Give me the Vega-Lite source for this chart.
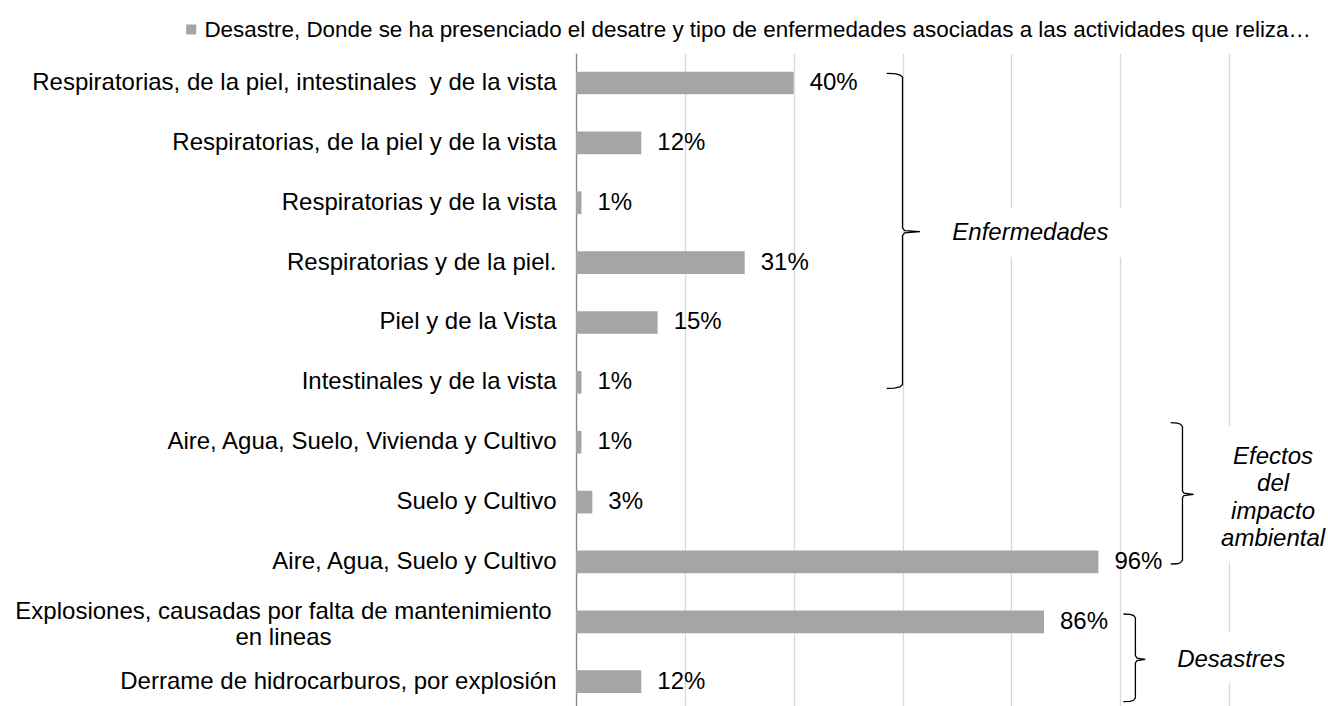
{
  "$schema": "https://vega.github.io/schema/vega-lite/v6.json",
  "width": 653,
  "height": 652.7,
  "autosize": {"type": "none"},
  "padding": {"left": 576, "top": 53.3, "right": 99, "bottom": 0},
  "background": "white",
  "config": {
    "font": "Liberation Sans",
    "view": {"stroke": null},
    "axisX": {"grid": true, "gridColor": "#d9d9d9", "gridWidth": 1.3, "labels": false, "ticks": false, "domain": false, "title": null},
    "text": {"font": "Liberation Sans", "fontSize": 24, "color": "#000000"}
  },
  "datasets": {
    "bars": [
      {"cat": "Respiratorias, de la piel, intestinales\u00a0 y de la vista", "v": 0.40},
      {"cat": "Respiratorias, de la piel y de la vista", "v": 0.12},
      {"cat": "Respiratorias y de la vista\u00a0", "v": 0.01},
      {"cat": "Respiratorias y de la piel.", "v": 0.31},
      {"cat": "Piel y de la Vista", "v": 0.15},
      {"cat": "Intestinales y de la vista", "v": 0.01},
      {"cat": "Aire, Agua, Suelo, Vivienda y Cultivo", "v": 0.01},
      {"cat": "Suelo y Cultivo", "v": 0.03},
      {"cat": "Aire, Agua, Suelo y Cultivo", "v": 0.96},
      {"cat": "Explosiones, causadas por falta de mantenimiento en lineas", "v": 0.86},
      {"cat": "Derrame de hidrocarburos, por explosión", "v": 0.12}
    ],
    "braces": [
      {"g": "Enfermedades", "k": 1, "bx": 0.571, "by": -0.162},
      {"g": "Enfermedades", "k": 2, "bx": 0.585, "by": -0.155},
      {"g": "Enfermedades", "k": 3, "bx": 0.595, "by": -0.135},
      {"g": "Enfermedades", "k": 4, "bx": 0.600, "by": -0.10},
      {"g": "Enfermedades", "k": 5, "bx": 0.600, "by": 2.42},
      {"g": "Enfermedades", "k": 6, "bx": 0.604, "by": 2.465},
      {"g": "Enfermedades", "k": 7, "bx": 0.632, "by": 2.484},
      {"g": "Enfermedades", "k": 8, "bx": 0.604, "by": 2.503},
      {"g": "Enfermedades", "k": 9, "bx": 0.600, "by": 2.55},
      {"g": "Enfermedades", "k": 10, "bx": 0.600, "by": 5.04},
      {"g": "Enfermedades", "k": 11, "bx": 0.595, "by": 5.075},
      {"g": "Enfermedades", "k": 12, "bx": 0.585, "by": 5.095},
      {"g": "Enfermedades", "k": 13, "bx": 0.571, "by": 5.10},
      {"g": "Efectos", "k": 1, "bx": 1.093, "by": 5.674},
      {"g": "Efectos", "k": 2, "bx": 1.105, "by": 5.68},
      {"g": "Efectos", "k": 3, "bx": 1.111, "by": 5.70},
      {"g": "Efectos", "k": 4, "bx": 1.1145, "by": 5.74},
      {"g": "Efectos", "k": 5, "bx": 1.1145, "by": 6.81},
      {"g": "Efectos", "k": 6, "bx": 1.117, "by": 6.85},
      {"g": "Efectos", "k": 7, "bx": 1.135, "by": 6.87},
      {"g": "Efectos", "k": 8, "bx": 1.117, "by": 6.89},
      {"g": "Efectos", "k": 9, "bx": 1.1145, "by": 6.93},
      {"g": "Efectos", "k": 10, "bx": 1.1145, "by": 7.97},
      {"g": "Efectos", "k": 11, "bx": 1.111, "by": 8.01},
      {"g": "Efectos", "k": 12, "bx": 1.105, "by": 8.03},
      {"g": "Efectos", "k": 13, "bx": 1.093, "by": 8.034},
      {"g": "Desastres", "k": 1, "bx": 1.006, "by": 8.869},
      {"g": "Desastres", "k": 2, "bx": 1.018, "by": 8.875},
      {"g": "Desastres", "k": 3, "bx": 1.025, "by": 8.895},
      {"g": "Desastres", "k": 4, "bx": 1.028, "by": 8.935},
      {"g": "Desastres", "k": 5, "bx": 1.028, "by": 9.565},
      {"g": "Desastres", "k": 6, "bx": 1.031, "by": 9.605},
      {"g": "Desastres", "k": 7, "bx": 1.046, "by": 9.626},
      {"g": "Desastres", "k": 8, "bx": 1.031, "by": 9.647},
      {"g": "Desastres", "k": 9, "bx": 1.028, "by": 9.687},
      {"g": "Desastres", "k": 10, "bx": 1.028, "by": 10.27},
      {"g": "Desastres", "k": 11, "bx": 1.025, "by": 10.31},
      {"g": "Desastres", "k": 12, "bx": 1.018, "by": 10.33},
      {"g": "Desastres", "k": 13, "bx": 1.006, "by": 10.334}
    ],
    "groups": [
      {"t": "Enfermedades", "tx": 0.835, "ty": 2.505, "x1": 0.66, "x2": 1.03, "y1": 2.088, "y2": 2.906},
      {"t": "Efectos\ndel\nimpacto\nambiental", "tx": 1.281, "ty": 6.24, "x1": 1.17, "x2": 1.26, "y1": 5.73, "y2": 7.99},
      {"t": "Desastres", "tx": 1.204, "ty": 9.638, "x1": 1.17, "x2": 1.26, "y1": 9.17, "y2": 10.03}
    ]
  },
  "layer": [
    {
      "data": {"name": "bars"},
      "encoding": {
        "y": {
          "field": "cat",
          "type": "nominal",
          "sort": null,
          "scale": {"paddingInner": 0.621, "paddingOuter": 0.2615, "align": 0.586},
          "axis": {
            "title": null,
            "labelFontSize": 24,
            "labelColor": "#000000",
            "labelPadding": {"condition": {"test": "datum.value === 'Explosiones, causadas por falta de mantenimiento en lineas'", "value": 293}, "value": 20},
            "labelAlign": {"condition": {"test": "datum.value === 'Explosiones, causadas por falta de mantenimiento en lineas'", "value": "center"}, "value": "right"},
            "labelOffset": {"condition": {"test": "datum.value === 'Explosiones, causadas por falta de mantenimiento en lineas'", "value": -10}, "value": 0},
            "labelLineHeight": 26,
            "labelLimit": 1000,
            "labelExpr": "datum.label === 'Explosiones, causadas por falta de mantenimiento en lineas' ? ['Explosiones, causadas por falta de mantenimiento', 'en lineas'] : datum.label",
            "ticks": false,
            "tickSize": 0,
            "domainColor": "#868686",
            "domainWidth": 1.3,
            "grid": false
          }
        },
        "x": {
          "field": "v",
          "type": "quantitative",
          "scale": {"domain": [0, 1.2], "nice": false, "zero": true},
          "axis": {"values": [0, 0.2, 0.4, 0.6, 0.8, 1.0, 1.2], "title": null}
        }
      },
      "layer": [
        {
          "mark": {"type": "bar"},
          "encoding": {
            "color": {
              "datum": "Desastre, Donde se ha presenciado el desatre y tipo de enfermedades asociadas a las actividades que reliza…",
              "type": "nominal",
              "scale": {"range": ["#a5a5a5"]},
              "legend": {
                "title": null,
                "orient": "none",
                "legendX": -396,
                "legendY": -35,
                "symbolType": "square",
                "symbolSize": 100,
                "symbolStrokeWidth": 0,
                "labelFontSize": 22.4,
                "labelColor": "#000000",
                "labelLimit": 2000,
                "labelOffset": 2,
                "padding": 0
              }
            }
          }
        },
        {
          "mark": {"type": "text", "align": "left", "baseline": "middle", "dx": 16},
          "encoding": {"text": {"field": "v", "type": "quantitative", "format": ".0%"}}
        }
      ]
    },
    {
      "layer": [
        {
          "data": {"name": "groups"},
          "mark": {"type": "rect", "color": "white"},
          "encoding": {
            "x": {"field": "x1", "type": "quantitative", "scale": {"domain": [0, 1.2], "nice": false}, "title": null},
            "x2": {"field": "x2"},
            "y": {"field": "y1", "type": "quantitative", "scale": {"domain": [-0.496, 10.406], "nice": false, "zero": false, "reverse": true}, "axis": null},
            "y2": {"field": "y2"}
          }
        },
        {
          "data": {"name": "braces"},
          "mark": {"type": "line", "color": "#000000", "strokeWidth": 1.3, "clip": false},
          "encoding": {
            "x": {"field": "bx", "type": "quantitative", "title": null},
            "y": {"field": "by", "type": "quantitative", "axis": null},
            "detail": {"field": "g"},
            "order": {"field": "k"}
          }
        },
        {
          "data": {"name": "groups"},
          "mark": {"type": "text", "fontStyle": "italic", "align": "center", "baseline": "middle", "lineBreak": "\n", "lineHeight": 27.5},
          "encoding": {
            "x": {"field": "tx", "type": "quantitative", "title": null},
            "y": {"field": "ty", "type": "quantitative", "axis": null},
            "text": {"field": "t"}
          }
        }
      ]
    }
  ],
  "resolve": {"scale": {"y": "independent"}, "axis": {"y": "independent"}}
}
